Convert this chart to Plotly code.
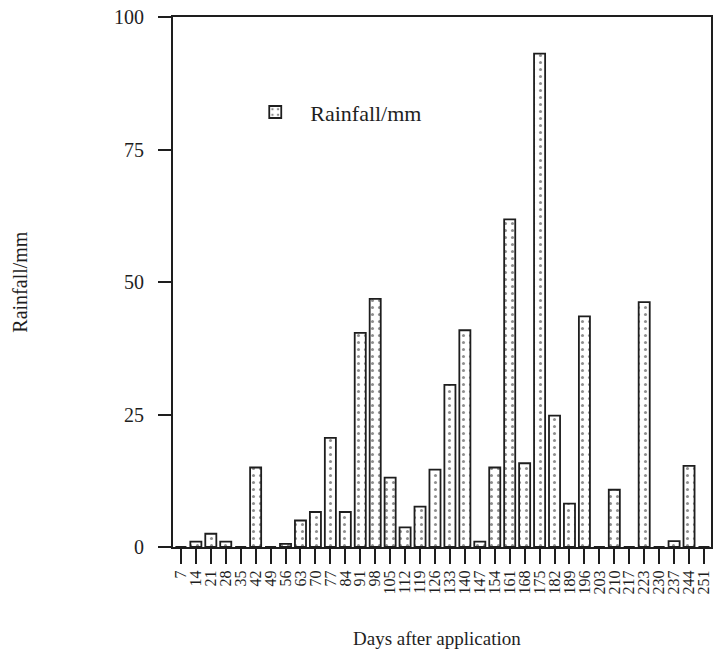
import plotly.graph_objects as go

days = ["7", "14", "21", "28", "35", "42", "49", "56", "63", "70", "77", "84",
        "91", "98", "105", "112", "119", "126", "133", "140", "147", "154", "161", "168",
        "175", "182", "189", "196", "203", "210", "217", "223", "230", "237", "244", "251"]
rainfall = [0, 1, 2.5, 1, 0, 15, 0, 0.6, 5, 6.6, 20.6, 6.6,
            40.4, 46.8, 13.1, 3.7, 7.6, 14.6, 30.6, 40.9, 1, 15, 61.8, 15.8,
            93.1, 24.8, 8.2, 43.5, 0, 10.8, 0, 46.2, 0, 1.1, 15.3, 0]

y_ticks = [0, 25, 50, 75, 100]

INK = "#1e1e1e"
SERIF = "Liberation Serif, Times New Roman, serif"

fig = go.Figure()
fig.add_trace(go.Bar(
    x=days, y=rainfall, name="Rainfall/mm", width=0.74,
    marker=dict(color="white", line=dict(color=INK, width=1.8),
                pattern=dict(shape=".", fgcolor=INK, bgcolor="white", size=7, solidity=0.15)),
    showlegend=True,
))

fig.update_layout(
    width=717, height=661,
    margin=dict(l=173, r=4, t=17, b=114),
    paper_bgcolor="white", plot_bgcolor="white",
    font=dict(family=SERIF, color=INK),
    showlegend=True,
    legend=dict(x=0.125, y=0.86, xanchor="left", yanchor="top",
                font=dict(size=22, family=SERIF, color=INK),
                itemwidth=60, bgcolor="rgba(0,0,0,0)"),
    bargap=0.2,
)
fig.update_xaxes(
    type="category", range=[-0.53, 35.47],
    tickmode="array", tickvals=days, ticktext=days,
    showline=True, linecolor=INK, linewidth=2, mirror=True,
    ticks="outside", ticklen=15, tickwidth=2, tickcolor=INK,
    tickangle=-90, tickfont=dict(size=16, family=SERIF, color=INK),
    showgrid=False, zeroline=False,
)
fig.update_yaxes(
    range=[0, 100], tickvals=y_ticks,
    showline=True, linecolor=INK, linewidth=2, mirror=True,
    ticks="outside", ticklen=13, tickwidth=2, tickcolor=INK,
    tickfont=dict(size=20, family=SERIF, color=INK), ticklabelstandoff=10,
    showgrid=False, zeroline=False,
)
fig.add_annotation(text="Rainfall/mm", xref="paper", yref="paper",
                   x=-0.285, y=0.5, xanchor="center", yanchor="middle",
                   textangle=-90, showarrow=False,
                   font=dict(size=20, family=SERIF, color=INK))
fig.add_annotation(text="Days after application", xref="paper", yref="paper",
                   x=0.49, y=-0.172, xanchor="center", yanchor="middle",
                   showarrow=False,
                   font=dict(size=19, family=SERIF, color=INK))

fig.write_html("out.html")
